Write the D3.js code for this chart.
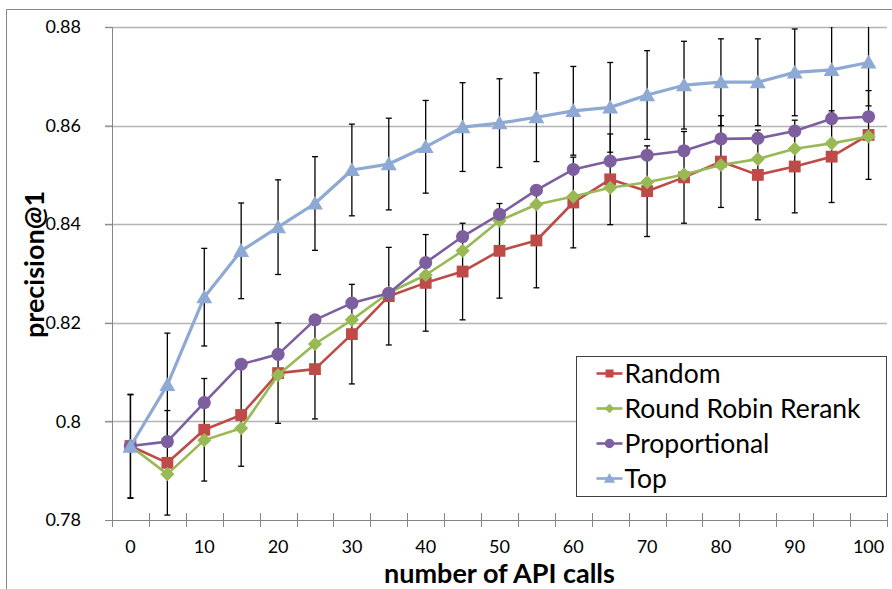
<!DOCTYPE html>
<html>
<head>
<meta charset="utf-8">
<script src="https://cdn.jsdelivr.net/npm/d3@7"></script>
<style>
  body { margin: 0; background: #fff; }
  svg { display: block; font-family: Lato, "Noto Sans", sans-serif; }
</style>
</head>
<body>
<svg id="chart" width="892" height="589"></svg>
<script>
const calls = [0, 5, 10, 15, 20, 25, 30, 35, 40, 45, 50, 55, 60, 65, 70, 75, 80, 85, 90, 95, 100];
const xLabels = [0, 10, 20, 30, 40, 50, 60, 70, 80, 90, 100];
const yTicks = [0.78, 0.8, 0.82, 0.84, 0.86, 0.88];

const random = [0.795, 0.7916, 0.7983, 0.8013, 0.8098, 0.8106, 0.8177, 0.8254, 0.8281, 0.8304, 0.8346,
  0.8367, 0.8444, 0.8491, 0.8467, 0.8495, 0.8527, 0.8500, 0.8517, 0.8537, 0.8581];
const roundRobin = [0.795, 0.7893, 0.7962, 0.7986, 0.8094, 0.8157, 0.8206, 0.8261, 0.8297, 0.8346, 0.8407,
  0.8440, 0.8456, 0.8474, 0.8485, 0.8501, 0.8520, 0.8532, 0.8553, 0.8564, 0.8578];
const proportional = [0.795, 0.7959, 0.8038, 0.8116, 0.8136, 0.8206, 0.8240, 0.8260, 0.8322, 0.8375, 0.8420,
  0.8469, 0.8511, 0.8528, 0.8540, 0.8549, 0.8573, 0.8574, 0.8589, 0.8614, 0.8618];
const topSel = [0.7949, 0.8074, 0.8252, 0.8346, 0.8394, 0.8442, 0.8510, 0.8522, 0.8557, 0.8597, 0.8605,
  0.8617, 0.8630, 0.8637, 0.8662, 0.8682, 0.8688, 0.8688, 0.8708, 0.8713, 0.8728];

// error bar half widths (only Random and Top have them)
const randomErr = [0.0105, 0.0106, 0.0104, 0.0104, 0.0102, 0.0101, 0.0101, 0.0099, 0.0098, 0.0098, 0.0096,
  0.0096, 0.0092, 0.0092, 0.0092, 0.0093, 0.0093, 0.0091, 0.0094, 0.0093, 0.0090];
const topErr = [0.0105, 0.0105, 0.0099, 0.0097, 0.0096, 0.0095, 0.0093, 0.0093, 0.0094, 0.0090, 0.0090,
  0.0090, 0.0090, 0.0091, 0.0090, 0.0089, 0.0088, 0.0088, 0.0088, 0.0088, 0.0088];

const seriesNames = ['Random', 'Round Robin Rerank', 'Proportional', 'Top'];
const seriesColors = ['#BE4B48', '#98B954', '#7D5FA0', '#8EA9D3'];

const series = [
  { name: seriesNames[0], values: random, err: randomErr, color: seriesColors[0], shape: 'square' },
  { name: seriesNames[1], values: roundRobin, err: null, color: seriesColors[1], shape: 'diamond' },
  { name: seriesNames[2], values: proportional, err: null, color: seriesColors[2], shape: 'circle' },
  { name: seriesNames[3], values: topSel, err: topErr, color: seriesColors[3], shape: 'triangle' }
];

const svg = d3.select('#chart');
const margin = { top: 27, right: 5, bottom: 69, left: 112 };
const width = 892 - margin.left - margin.right;
const height = 589 - margin.top - margin.bottom;

// outer chart border
svg.append('path')
  .attr('d', 'M6.5,600 V9.5 H900')
  .attr('fill', 'none')
  .attr('stroke', '#888')
  .attr('stroke-width', 1);

const g = svg.append('g').attr('transform', `translate(${margin.left},${margin.top})`);

const x = d3.scaleBand().domain(calls).range([0, width]).padding(0);
const y = d3.scaleLinear().domain([0.78, 0.88]).range([height, 0]);
const cx = d => x(d) + x.bandwidth() / 2;

svg.append('defs').append('clipPath').attr('id', 'plotClip')
  .append('rect').attr('x', 0).attr('y', 0).attr('width', width).attr('height', height);

// gridlines
g.append('g')
  .selectAll('line')
  .data(yTicks.filter(t => t > 0.78))
  .enter().append('line')
  .attr('x1', -7).attr('x2', width)
  .attr('y1', d => Math.round(y(d)) + 0.5).attr('y2', d => Math.round(y(d)) + 0.5)
  .attr('stroke', '#b4b4b4')
  .attr('stroke-width', 1.3);

// y axis
const yAxis = g.append('g')
  .call(d3.axisLeft(y).tickValues(yTicks).tickSize(7).tickPadding(24).tickFormat(d => String(+d.toFixed(2))));
yAxis.select('.domain').attr('stroke', '#868686');
yAxis.selectAll('.tick line').attr('stroke', '#868686');
yAxis.selectAll('text').attr('font-size', 18).attr('fill', '#000').attr('font-family', 'Lato');

// x axis: labels
const xAxis = g.append('g')
  .attr('transform', `translate(0,${height})`)
  .call(d3.axisBottom(x).tickValues(xLabels).tickSize(0).tickPadding(20));
xAxis.select('.domain').attr('stroke', '#868686');
xAxis.selectAll('text').attr('font-size', 18).attr('fill', '#000').attr('font-family', 'Lato');

// x axis: tick marks on category boundaries, crossing the axis
g.append('g')
  .selectAll('line')
  .data(calls.map(c => x(c)).concat([width]))
  .enter().append('line')
  .attr('x1', d => Math.round(d) + 0.5).attr('x2', d => Math.round(d) + 0.5)
  .attr('y1', height - 7).attr('y2', height + 7)
  .attr('stroke', '#868686');

// axis titles
svg.append('text')
  .attr('x', margin.left + width / 2)
  .attr('y', 583)
  .attr('text-anchor', 'middle')
  .attr('font-size', 27)
  .attr('font-weight', 'bold')
  .text('number of API calls');

svg.append('text')
  .attr('transform', `translate(44,${margin.top + height / 2 - 9}) rotate(-90)`)
  .attr('text-anchor', 'middle')
  .attr('font-size', 27)
  .attr('font-weight', 'bold')
  .text('precision@1');

// error bars
const errG = g.append('g').attr('clip-path', 'url(#plotClip)');
series.filter(s => s.err).forEach(s => {
  const bars = errG.append('g')
    .selectAll('g')
    .data(calls.map((c, i) => ({ c, v: s.values[i], e: s.err[i] })))
    .enter().append('g')
    .attr('stroke', '#000')
    .attr('stroke-width', 1.3);
  bars.append('line')
    .attr('x1', d => cx(d.c)).attr('x2', d => cx(d.c))
    .attr('y1', d => y(d.v + d.e)).attr('y2', d => y(d.v - d.e));
  bars.append('line')
    .attr('x1', d => cx(d.c) - 3).attr('x2', d => cx(d.c) + 3)
    .attr('y1', d => y(d.v + d.e)).attr('y2', d => y(d.v + d.e));
  bars.append('line')
    .attr('x1', d => cx(d.c) - 3).attr('x2', d => cx(d.c) + 3)
    .attr('y1', d => y(d.v - d.e)).attr('y2', d => y(d.v - d.e));
});

const symbolFor = (shape, big) => {
  if (shape === 'square') return d3.symbol().type(d3.symbolSquare).size(big ? 140 : 64)();
  if (shape === 'diamond') return d3.symbol().type(d3.symbolSquare).size(big ? 100 : 45)();
  if (shape === 'circle') return d3.symbol().type(d3.symbolCircle).size(big ? 135 : 70)();
  return d3.symbol().type(d3.symbolTriangle).size(big ? 110 : 55)();
};

const line = d3.line()
  .x((d, i) => cx(calls[i]))
  .y(d => y(d));

series.forEach(s => {
  g.append('path')
    .datum(s.values)
    .attr('fill', 'none')
    .attr('stroke', s.color)
    .attr('stroke-width', s.shape === 'triangle' ? 3.2 : 2.6)
    .attr('stroke-linejoin', 'round')
    .attr('d', line);

  g.append('g')
    .selectAll('path')
    .data(s.values)
    .enter().append('path')
    .attr('d', symbolFor(s.shape, true))
    .attr('transform', (d, i) => `translate(${cx(calls[i])},${y(d)})` + (s.shape === 'diamond' ? ' rotate(45)' : '') + (s.shape === 'triangle' ? ' translate(0,1.5)' : ''))
    .attr('fill', s.color);
});

// legend
const legend = svg.append('g').attr('transform', 'translate(576.5,356.5)');
legend.append('rect')
  .attr('width', 310).attr('height', 140)
  .attr('fill', '#fff')
  .attr('stroke', '#404040')
  .attr('stroke-width', 1);

const items = legend.selectAll('g.item')
  .data(series)
  .enter().append('g')
  .attr('class', 'item')
  .attr('transform', (d, i) => `translate(0,${17 + i * 35})`);
items.append('line')
  .attr('x1', 20).attr('x2', 46)
  .attr('stroke', d => d.color)
  .attr('stroke-width', 2.6);
items.append('path')
  .attr('d', d => symbolFor(d.shape, false))
  .attr('transform', d => 'translate(33,0)' + (d.shape === 'diamond' ? ' rotate(45)' : '') + (d.shape === 'triangle' ? ' translate(0,1)' : ''))
  .attr('fill', d => d.color);
items.append('text')
  .attr('x', 48)
  .attr('y', 0)
  .attr('dy', '0.36em')
  .attr('font-size', 26.5)
  .text(d => d.name);
</script>
</body>
</html>
